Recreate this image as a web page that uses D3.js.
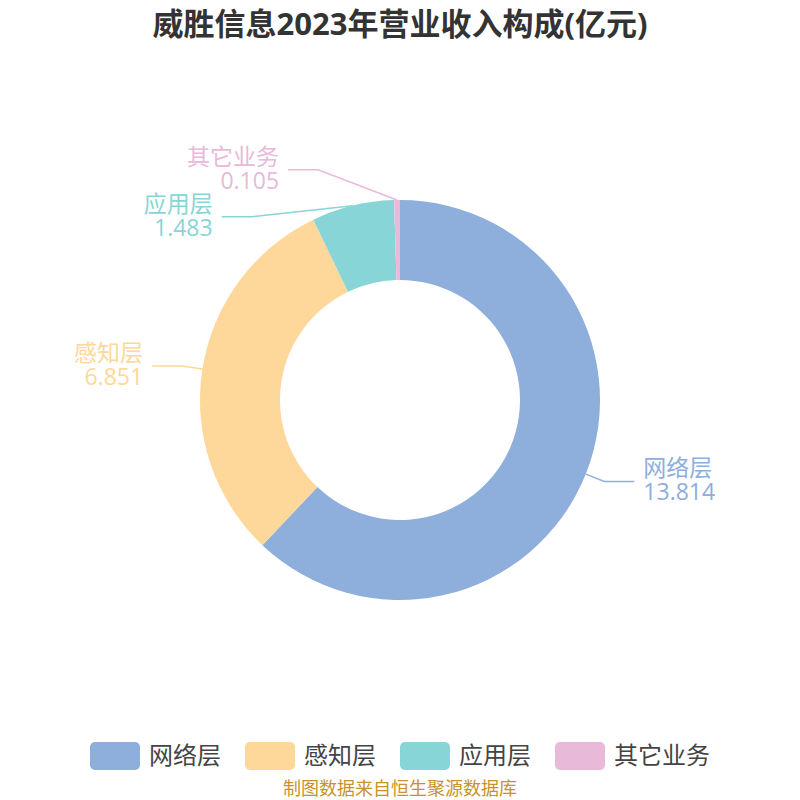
<!DOCTYPE html>
<html>
<head>
<meta charset="utf-8">
<title>威胜信息2023年营业收入构成</title>
<script src="https://d3js.org/d3.v7.min.js"></script>
<style>
  body { margin: 0; background: #fff; }
  svg text { font-family: "Open Sans", "Noto Sans CJK SC", sans-serif; }
</style>
</head>
<body>
<svg id="chart" width="800" height="800"></svg>
<script>
// data
var categories = ["网络层", "感知层", "应用层", "其它业务"];
var values = [13.814, 6.851, 1.483, 0.105];
var colors = ["#8eaedb", "#fed89b", "#88d5d8", "#e8b9d8"];
var title = "威胜信息2023年营业收入构成(亿元)";
var source = "制图数据来自恒生聚源数据库";

var width = 800, height = 800;
var cx = 400, cy = 400;
var outerR = 200, innerR = 120;

var svg = d3.select("#chart");

// title
svg.append("text")
  .attr("x", width / 2)
  .attr("y", 35)
  .attr("text-anchor", "middle")
  .attr("font-size", "31px")
  .attr("font-weight", "bold")
  .attr("fill", "#333")
  .text(title);

var data = categories.map(function(c, i) { return { name: c, value: values[i], color: colors[i] }; });

var pie = d3.pie().sort(null).value(function(d) { return d.value; });
var arc = d3.arc().innerRadius(innerR).outerRadius(outerR);

var arcs = pie(data);

var g = svg.append("g").attr("transform", "translate(" + cx + "," + cy + ")");

g.selectAll("path.slice")
  .data(arcs)
  .enter()
  .append("path")
  .attr("class", "slice")
  .attr("d", arc)
  .attr("fill", function(d) { return d.data.color; });

// label layout: elbow on ellipse, shift overlapping labels
var elbowR = 220, len2 = 30, minGap = 47;
var labels = arcs.map(function(d) {
  var a = (d.startAngle + d.endAngle) / 2;
  return {
    d: d,
    a: a,
    px: outerR * Math.sin(a),
    py: -outerR * Math.cos(a),
    y: -elbowR * Math.cos(a),
    side: Math.sin(a) >= 0 ? 1 : -1
  };
});

[1, -1].forEach(function(side) {
  var list = labels.filter(function(l) { return l.side === side; })
    .sort(function(a, b) { return a.y - b.y; });
  for (var i = 1; i < list.length; i++) {
    var gap = list[i].y - list[i - 1].y;
    if (gap < minGap) {
      var over = minGap - gap;
      list[i - 1].y -= over * 0.25;
      list[i].y += over * 0.75;
    }
  }
  var maxDy = d3.max(list, function(l) { return Math.abs(l.y); }) || 0;
  var rB = Math.max(elbowR, maxDy / 0.928);
  list.forEach(function(l) {
    var dx = Math.sqrt(Math.max(0, 1 - (l.y * l.y) / (rB * rB))) * elbowR;
    l.ex = side * dx;
  });
});

var lab = g.selectAll("g.label")
  .data(labels)
  .enter()
  .append("g")
  .attr("class", "label");

lab.append("polyline")
  .attr("points", function(l) {
    return [[l.px, l.py], [l.ex, l.y], [l.ex + l.side * len2, l.y]].map(function(p) { return p.join(","); }).join(" ");
  })
  .attr("fill", "none")
  .attr("stroke", function(l) { return l.d.data.color; })
  .attr("stroke-width", 1.5);

lab.append("text")
  .attr("x", function(l) { return l.ex + l.side * (len2 + 9); })
  .attr("y", function(l) { return l.y - 5; })
  .attr("text-anchor", function(l) { return l.side > 0 ? "start" : "end"; })
  .attr("font-size", "23px")
  .attr("fill", function(l) { return l.d.data.color; })
  .text(function(l) { return l.d.data.name; });

lab.append("text")
  .attr("x", function(l) { return l.ex + l.side * (len2 + 9); })
  .attr("y", function(l) { return l.y + 19; })
  .attr("text-anchor", function(l) { return l.side > 0 ? "start" : "end"; })
  .attr("font-size", "23px")
  .attr("fill", function(l) { return l.d.data.color; })
  .text(function(l) { return d3.format(".3f")(l.d.data.value); });

// legend
var legend = svg.append("g");
var x = 0;
data.forEach(function(d) {
  var item = legend.append("g");
  item.append("rect")
    .attr("x", 0).attr("y", 0)
    .attr("width", 50).attr("height", 28)
    .attr("rx", 5)
    .attr("fill", d.color);
  var t = item.append("text")
    .attr("x", 59).attr("y", 22)
    .attr("font-size", "24px")
    .attr("fill", "#444")
    .text(d.name);
  var w = 59 + t.node().getComputedTextLength();
  item.attr("transform", "translate(" + x + ",742)");
  x += w + 24;
});
var totalW = x - 24;
legend.attr("transform", "translate(" + (width / 2 - totalW / 2) + ",0)");

// source
svg.append("text")
  .attr("x", width / 2)
  .attr("y", 795)
  .attr("text-anchor", "middle")
  .attr("font-size", "18px")
  .attr("fill", "#c8922a")
  .text(source);
</script>
</body>
</html>
